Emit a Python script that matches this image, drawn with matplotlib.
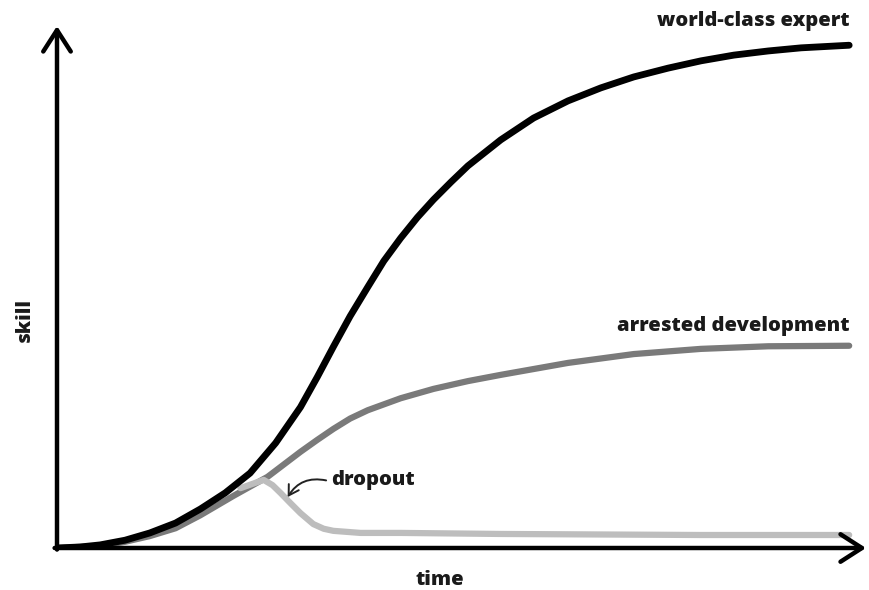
import matplotlib
matplotlib.use("Agg")
import matplotlib.pyplot as plt

# skill curves (time units 0..10, skill units 0..10)
expert_t = [0, 0.29, 0.54, 0.85, 1.16, 1.48, 1.79, 2.10, 2.41, 2.73, 3.04, 3.25, 3.45, 3.66,
            3.88, 4.08, 4.29, 4.50, 4.70, 4.92, 5.13, 5.54, 5.95, 6.38, 6.79, 7.20, 7.63,
            8.04, 8.45, 8.88, 9.29, 9.89]
expert_s = [0, 0.02, 0.06, 0.15, 0.29, 0.48, 0.75, 1.06, 1.44, 2.02, 2.71, 3.29, 3.87, 4.46,
            5.02, 5.52, 5.96, 6.36, 6.70, 7.04, 7.35, 7.85, 8.27, 8.60, 8.85, 9.06, 9.23,
            9.37, 9.48, 9.56, 9.62, 9.67]

arrested_t = [0, 0.54, 0.85, 1.16, 1.48, 1.79, 2.20, 2.63, 3.04, 3.25, 3.45, 3.66, 3.88, 4.29,
              4.70, 5.13, 5.54, 6.38, 7.20, 8.04, 8.88, 9.89]
arrested_s = [0, 0.04, 0.12, 0.23, 0.38, 0.63, 1.00, 1.37, 1.85, 2.08, 2.29, 2.49, 2.65, 2.88,
              3.06, 3.21, 3.33, 3.56, 3.73, 3.83, 3.88, 3.89]

dropout_t = [2.29, 2.58, 2.69, 2.79, 2.91, 3.04, 3.20, 3.33, 3.45, 3.79, 4.29, 5.54, 8.04, 9.89]
dropout_s = [1.15, 1.31, 1.21, 1.06, 0.87, 0.67, 0.46, 0.37, 0.33, 0.29, 0.29, 0.27, 0.25, 0.25]

FONT = "Open Sans"

fig = plt.figure(figsize=(8.7, 5.9), dpi=100)
ax = fig.add_axes([57/870, 42/590, (866-57)/870, (548-26)/590])
ax.set_xlim(0, 10.1)
ax.set_ylim(0, 10.04)
ax.axis("off")

lw = 4.5
style = dict(solid_capstyle="round", solid_joinstyle="round")
ax.plot(arrested_t, arrested_s, color="#7a7a7a", lw=lw, zorder=2, **style)
ax.plot(dropout_t, dropout_s, color="#bdbdbd", lw=lw, zorder=3, **style)
ax.plot(expert_t, expert_s, color="black", lw=lw + 0.4, zorder=4, **style)

# axes with open arrow heads
arrow = dict(arrowstyle="->,head_length=0.7,head_width=0.45", lw=3.2, color="black",
             mutation_scale=22, shrinkA=0, shrinkB=0, capstyle="round")
ax.annotate("", xy=(10.1, 0), xytext=(-0.03, 0), arrowprops=arrow, annotation_clip=False)
ax.annotate("", xy=(0, 10.04), xytext=(0, -0.03), arrowprops=arrow, annotation_clip=False)

tk = dict(fontfamily=FONT, fontweight=800, color="#1a1a1a")
ax.text(9.89, 9.95, "world-class expert", ha="right", va="bottom", fontsize=14.5, **tk)
ax.text(9.89, 4.08, "arrested development", ha="right", va="bottom", fontsize=14.5, **tk)
ax.text(3.42, 1.31, "dropout", ha="left", va="center", fontsize=14.5, **tk)
ax.annotate("", xy=(2.88, 0.98), xytext=(3.36, 1.3),
            arrowprops=dict(arrowstyle="->,head_length=0.5,head_width=0.3", lw=1.4, color="#222222",
                            connectionstyle="arc3,rad=0.35", mutation_scale=14, shrinkA=0, shrinkB=0))

fig.text(25/870, 1 - 320/590, "skill", rotation=90, ha="center", va="center", fontsize=14.5, **tk)
fig.text(440/870, 1 - 580/590, "time", ha="center", va="center", fontsize=14.5, **tk)

fig.savefig("out.png", dpi=100, facecolor="white")
